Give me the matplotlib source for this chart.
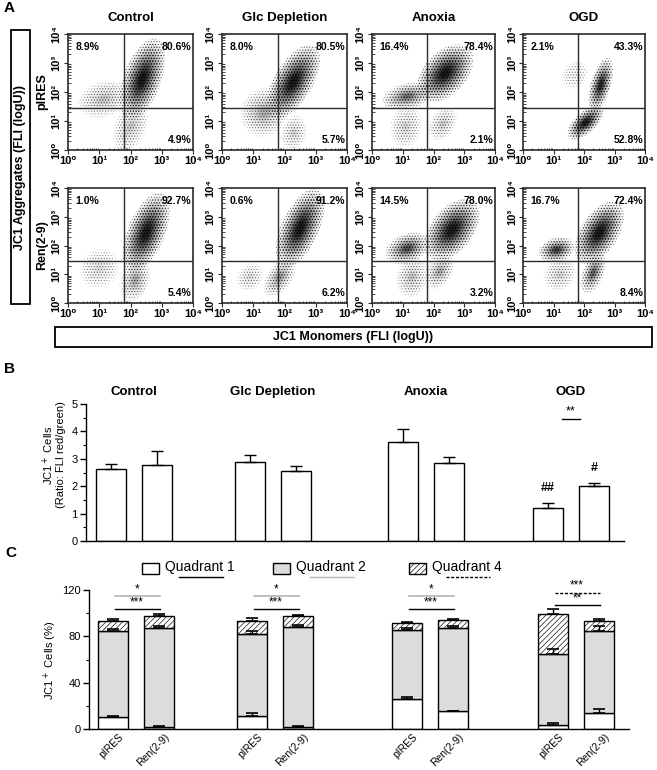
import matplotlib
matplotlib.use("Agg")
import matplotlib.pyplot as plt
from matplotlib.patches import Ellipse, Rectangle
import numpy as np

plt.rcParams['font.family'] = ['Liberation Sans', 'DejaVu Sans']
plt.rcParams['hatch.linewidth'] = 0.45

# ---------------- data ----------------
conditions = ['Control', 'Glc Depletion', 'Anoxia', 'OGD']
constructs = ['pIRES', 'Ren(2-9)']

# Panel A quadrant percentages (upper-left, upper-right, lower-right)
a_pires_ul = [8.9, 8.0, 16.4, 2.1]
a_pires_ur = [80.6, 80.5, 78.4, 43.3]
a_pires_lr = [4.9, 5.7, 2.1, 52.8]
a_ren_ul = [1.0, 0.6, 14.5, 16.7]
a_ren_ur = [92.7, 91.2, 78.0, 72.4]
a_ren_lr = [5.4, 6.2, 3.2, 8.4]
gate_x = 1.8   # log10 units
gate_y = 1.45

# Cell populations: (log x centre, log y centre, semi-major, semi-minor, angle, density)
pops_pires = [
    [(2.38, 2.45, 1.45, 0.60, 72, 1.0), (1.15, 1.75, 0.85, 0.60, 20, 0.12), (2.0, 0.8, 0.9, 0.5, 70, 0.10)],
    [(2.28, 2.35, 1.40, 0.62, 62, 1.0), (1.35, 1.30, 0.85, 0.75, 70, 0.18), (2.3, 0.6, 0.6, 0.4, 80, 0.08)],
    [(2.38, 2.65, 1.15, 0.70, 50, 1.0), (1.15, 1.85, 0.85, 0.45, 15, 0.40), (1.1, 0.8, 0.7, 0.5, 80, 0.08), (2.3, 0.9, 0.6, 0.4, 60, 0.10)],
    [(2.55, 2.25, 0.95, 0.33, 75, 0.85), (2.05, 0.95, 0.75, 0.35, 45, 1.0), (1.7, 2.6, 0.5, 0.4, 60, 0.02)],
]
pops_ren = [
    [(2.50, 2.45, 1.45, 0.60, 70, 1.0), (2.15, 0.8, 0.75, 0.45, 75, 0.20), (1.0, 1.2, 0.7, 0.6, 60, 0.06)],
    [(2.50, 2.60, 1.45, 0.60, 68, 1.0), (1.85, 0.9, 0.75, 0.40, 60, 0.25), (0.9, 0.9, 0.5, 0.4, 60, 0.06)],
    [(2.60, 2.55, 1.20, 0.70, 55, 1.0), (1.15, 1.90, 0.75, 0.50, 25, 0.55), (1.3, 0.9, 0.7, 0.5, 80, 0.12), (2.2, 1.1, 0.65, 0.40, 60, 0.20)],
    [(2.50, 2.45, 1.20, 0.62, 60, 1.0), (1.10, 1.85, 0.60, 0.42, 20, 0.65), (2.30, 1.05, 0.75, 0.35, 70, 0.45), (1.2, 1.0, 0.6, 0.5, 60, 0.08)],
]

# Panel B: ratio FLI red/green
b_pires = [2.63, 2.90, 3.60, 1.21]
b_pires_err = [0.17, 0.25, 0.47, 0.17]
b_ren = [2.77, 2.55, 2.84, 2.00]
b_ren_err = [0.51, 0.17, 0.23, 0.13]

# Panel C: stacked quadrant percentages
c_pires_q1 = [10.0, 11.5, 25.5, 3.8]
c_pires_q1_err = [1.2, 2.0, 2.2, 1.1]
c_pires_q2 = [75.0, 70.1, 59.9, 60.8]
c_pires_q2_err = [1.2, 2.8, 1.4, 4.3]
c_pires_q4 = [8.5, 11.9, 6.0, 34.6]
c_pires_q4_err = [1.1, 2.0, 1.2, 4.1]
c_ren_q1 = [1.7, 1.7, 15.3, 14.1]
c_ren_q1_err = [0.5, 0.9, 0.6, 3.5]
c_ren_q2 = [85.1, 86.6, 72.1, 70.1]
c_ren_q2_err = [2.2, 1.7, 1.4, 4.6]
c_ren_q4 = [10.7, 9.2, 6.3, 9.3]
c_ren_q4_err = [1.5, 0.9, 0.9, 1.1]

# ---------------- layout ----------------
W, H = 657, 770
fig = plt.figure(figsize=(W / 100, H / 100), dpi=100)
fig.patch.set_facecolor('white')


def rect(x0, y0, x1, y1):
    return [x0 / W, 1 - y1 / H, (x1 - x0) / W, (y1 - y0) / H]


FRAME = '#2a2a2a'
col_x = [(68, 193), (222, 347), (372, 495), (523, 645)]
row_y = [(34, 150), (188, 303)]
sup = ['10\u2070', '10\u00b9', '10\u00b2', '10\u00b3', '10\u2074']
minor = [k + np.log10(m) for k in range(4) for m in range(2, 10)]

LAYER_SCALES = [1.0, 0.88, 0.76, 0.65, 0.55, 0.46, 0.38, 0.30, 0.23, 0.16]


def draw_pop(ax, cx, cy, a, b, ang, dens):
    for i, scale in enumerate(LAYER_SCALES):
        alpha = (0.03 + 0.035 * i) * dens
        hatch = '......' if i < 4 else None
        ax.add_patch(Ellipse((cx, cy), 2 * a * scale, 2 * b * scale, angle=ang,
                             facecolor=(0, 0, 0, min(1, alpha)),
                             edgecolor=(0.1, 0.1, 0.1, min(1, 0.15 + 0.5 * dens)) if hatch else 'none',
                             lw=0, hatch=hatch, zorder=1))


for r, (ul, ur, lr, pops) in enumerate([(a_pires_ul, a_pires_ur, a_pires_lr, pops_pires),
                                          (a_ren_ul, a_ren_ur, a_ren_lr, pops_ren)]):
    for c in range(4):
        ax = fig.add_axes(rect(col_x[c][0], row_y[r][0], col_x[c][1], row_y[r][1]))
        ax.set_xlim(0, 4)
        ax.set_ylim(0, 4)
        for p in pops[c]:
            draw_pop(ax, *p)
        ax.axvline(gate_x, color=FRAME, lw=1.0, zorder=3)
        ax.axhline(gate_y, color=FRAME, lw=1.0, zorder=3)
        for s in ax.spines.values():
            s.set_color(FRAME)
            s.set_linewidth(1.2)
        ax.set_xticks(range(5))
        ax.set_yticks(range(5))
        ax.set_xticklabels(sup, fontsize=8, fontweight='bold')
        ax.set_yticklabels(sup, fontsize=8, fontweight='bold', rotation=90, va='center')
        ax.set_xticks(minor, minor=True)
        ax.set_yticks(minor, minor=True)
        ax.tick_params(which='major', length=3, width=0.8, pad=1.5, color=FRAME)
        ax.tick_params(which='minor', length=1.8, width=0.6, direction='in', color=FRAME)
        kw = dict(fontsize=7.5, fontweight='bold', transform=ax.transAxes, zorder=4)
        ax.text(0.06, 0.93, f'{ul[c]:.1f}%', ha='left', va='top', **kw)
        ax.text(0.985, 0.93, f'{ur[c]:.1f}%', ha='right', va='top', **kw)
        ax.text(0.985, 0.04, f'{lr[c]:.1f}%', ha='right', va='bottom', **kw)

# ---------------- panel B ----------------
grp = [48, 187, 340, 485]
off = 23
bw = 30
axb = fig.add_axes(rect(86, 404, 624, 541))
xp = [g - off for g in grp]
xr = [g + off for g in grp]
axb.bar(xp, b_pires, width=bw, color='white', edgecolor='black', lw=1.0, zorder=2)
axb.bar(xr, b_ren, width=bw, color='white', edgecolor='black', lw=1.0, zorder=2)
axb.errorbar(xp, b_pires, yerr=[np.zeros(4), b_pires_err], fmt='none', ecolor='black',
             elinewidth=1, capsize=4.5, capthick=1, zorder=3)
axb.errorbar(xr, b_ren, yerr=[np.zeros(4), b_ren_err], fmt='none', ecolor='black',
             elinewidth=1, capsize=4.5, capthick=1, zorder=3)
axb.set_xlim(0, 538)
axb.set_ylim(0, 5)
axb.set_xticks([])
axb.set_yticks(range(6))
axb.set_yticks(np.arange(0.5, 5, 1), minor=True)
axb.tick_params(which='major', length=4, width=1, labelsize=8, pad=2)
axb.tick_params(which='minor', length=2, width=0.8)
for s in ['top', 'right']:
    axb.spines[s].set_visible(False)
for s in ['left', 'bottom']:
    axb.spines[s].set_linewidth(1.0)
axb.text(xp[3], 1.95, '##', ha='center', va='center', fontsize=9, fontweight='bold')
axb.text(xr[3], 2.68, '#', ha='center', va='center', fontsize=9, fontweight='bold')
axb.plot([xp[3] + 14, xr[3] - 14], [4.45, 4.45], color='black', lw=1)
axb.text(grp[3], 4.5, '**', ha='center', va='bottom', fontsize=9)
for g, name in zip(grp, conditions):
    axb.text(g, 5.45, name, ha='center', va='center', fontsize=9.5, fontweight='bold')

# ---------------- panel C ----------------
axc = fig.add_axes(rect(89, 590, 629, 729))
grpc = [47, 186, 341, 487]
xpc = [g - off for g in grpc]
xrc = [g + off for g in grpc]
Q2C = '#dcdcdc'
for xs, q1, q2, q4, e1, e2, e4 in [
        (xpc, c_pires_q1, c_pires_q2, c_pires_q4, c_pires_q1_err, c_pires_q2_err, c_pires_q4_err),
        (xrc, c_ren_q1, c_ren_q2, c_ren_q4, c_ren_q1_err, c_ren_q2_err, c_ren_q4_err)]:
    q1 = np.array(q1); q2 = np.array(q2); q4 = np.array(q4)
    axc.bar(xs, q1, width=bw, color='white', edgecolor='black', lw=1.0, zorder=2)
    axc.bar(xs, q2, bottom=q1, width=bw, color=Q2C, edgecolor='black', lw=1.0, zorder=2)
    axc.bar(xs, q4, bottom=q1 + q2, width=bw, color='white', edgecolor='black', lw=1.0,
            hatch='//////', zorder=2)
    for top, err in [(q1, e1), (q1 + q2, e2), (q1 + q2 + q4, e4)]:
        axc.errorbar(xs, top, yerr=[np.zeros(4), err], fmt='none', ecolor='black',
                     elinewidth=1, capsize=4.5, capthick=1.2, zorder=3)
axc.set_xlim(0, 540)
axc.set_ylim(0, 120)
axc.set_yticks([0, 40, 80, 120])
axc.set_yticks([20, 60, 100], minor=True)
axc.set_xticks([x + 5 for pair in zip(xpc, xrc) for x in pair])
axc.set_xticklabels(constructs * 4, rotation=45, ha='right', va='top',
                    rotation_mode='anchor', fontsize=7.5)
axc.tick_params(axis='x', length=0, pad=2)
axc.tick_params(axis='y', which='major', length=4, width=1, labelsize=8, pad=2)
axc.tick_params(axis='y', which='minor', length=2, width=0.8)
for s in ['top', 'right']:
    axc.spines[s].set_visible(False)
for s in ['left', 'bottom']:
    axc.spines[s].set_linewidth(1.0)
# significance
GRAY = '#b4b4b4'
for i in range(3):
    x0, x1 = grpc[i] - 21, grpc[i] + 24
    axc.plot([x0, x1], [114.8, 114.8], color=GRAY, lw=1.2)
    axc.text(grpc[i] + 1, 115.5, '*', ha='center', va='bottom', fontsize=8.5)
    axc.plot([x0, x1], [103.3, 103.3], color='black', lw=1.0)
    axc.text(grpc[i] + 1, 104.0, '***', ha='center', va='bottom', fontsize=8.5)
x0, x1 = grpc[3] - 21, grpc[3] + 24
axc.plot([x0, x1], [117.7, 117.7], color='black', lw=1.0, ls=(0, (2.2, 1.2)))
axc.text(grpc[3] + 1, 118.4, '***', ha='center', va='bottom', fontsize=8.5)
axc.plot([x0, x1], [107.0, 107.0], color='black', lw=1.0)
axc.text(grpc[3] + 1, 107.7, '**', ha='center', va='bottom', fontsize=8.5)

# ---------------- overlay (labels, boxes) ----------------
ov = fig.add_axes([0, 0, 1, 1], zorder=10)
ov.set_xlim(0, W)
ov.set_ylim(H, 0)
ov.axis('off')
ov.patch.set_alpha(0)

ov.text(4, 8, 'A', fontsize=11, fontweight='bold', ha='left', va='center')
ov.text(4, 369, 'B', fontsize=11, fontweight='bold', ha='left', va='center')
ov.text(5, 553, 'C', fontsize=11, fontweight='bold', ha='left', va='center')

for c, name in enumerate(conditions):
    ov.text((col_x[c][0] + col_x[c][1]) / 2, 18, name, fontsize=9.5, fontweight='bold',
            ha='center', va='center')
ov.text(42, (row_y[0][0] + row_y[0][1]) / 2, 'pIRES', rotation=90, fontsize=9,
        fontweight='bold', ha='center', va='center')
ov.text(42, (row_y[1][0] + row_y[1][1]) / 2, 'Ren(2-9)', rotation=90, fontsize=9,
        fontweight='bold', ha='center', va='center')
ov.add_patch(Rectangle((11, 30), 19, 274, facecolor='none', edgecolor='black', lw=1.3))
ov.text(20.5, 167, 'JC1 Aggregates (FLI (logU))', rotation=90, fontsize=9,
        fontweight='bold', ha='center', va='center')
ov.add_patch(Rectangle((55, 327), 597, 20, facecolor='none', edgecolor='black', lw=1.3))
ov.text(353, 337, 'JC1 Monomers (FLI (logU))', fontsize=9, fontweight='bold',
        ha='center', va='center')

ov.text(48, 455, 'JC1$^+$ Cells', rotation=90, fontsize=8, ha='center', va='center')
ov.text(61, 455, '(Ratio: FLI red/green)', rotation=90, fontsize=8, ha='center', va='center')
ov.text(50, 660, 'JC1$^+$ Cells (%)', rotation=90, fontsize=8, ha='center', va='center')

# legend C
leg = [('Quadrant 1', 'white', None, 142, 'black', '-'),
       ('Quadrant 2', Q2C, None, 273, GRAY, '-'),
       ('Quadrant 4', 'white', '//////', 409, 'black', (0, (2.2, 1.2)))]
for label, fc, hatch, xb, lc, ls in leg:
    ov.add_patch(Rectangle((xb, 563), 17, 11, facecolor=fc, edgecolor='black', lw=1.0, hatch=hatch))
    ov.text(xb + 23, 567, label, fontsize=10, ha='left', va='center')
    ov.plot([xb + 37, xb + 81], [577, 577], color=lc, lw=1.0, ls=ls)

fig.savefig('out.png', dpi=100, facecolor='white')
